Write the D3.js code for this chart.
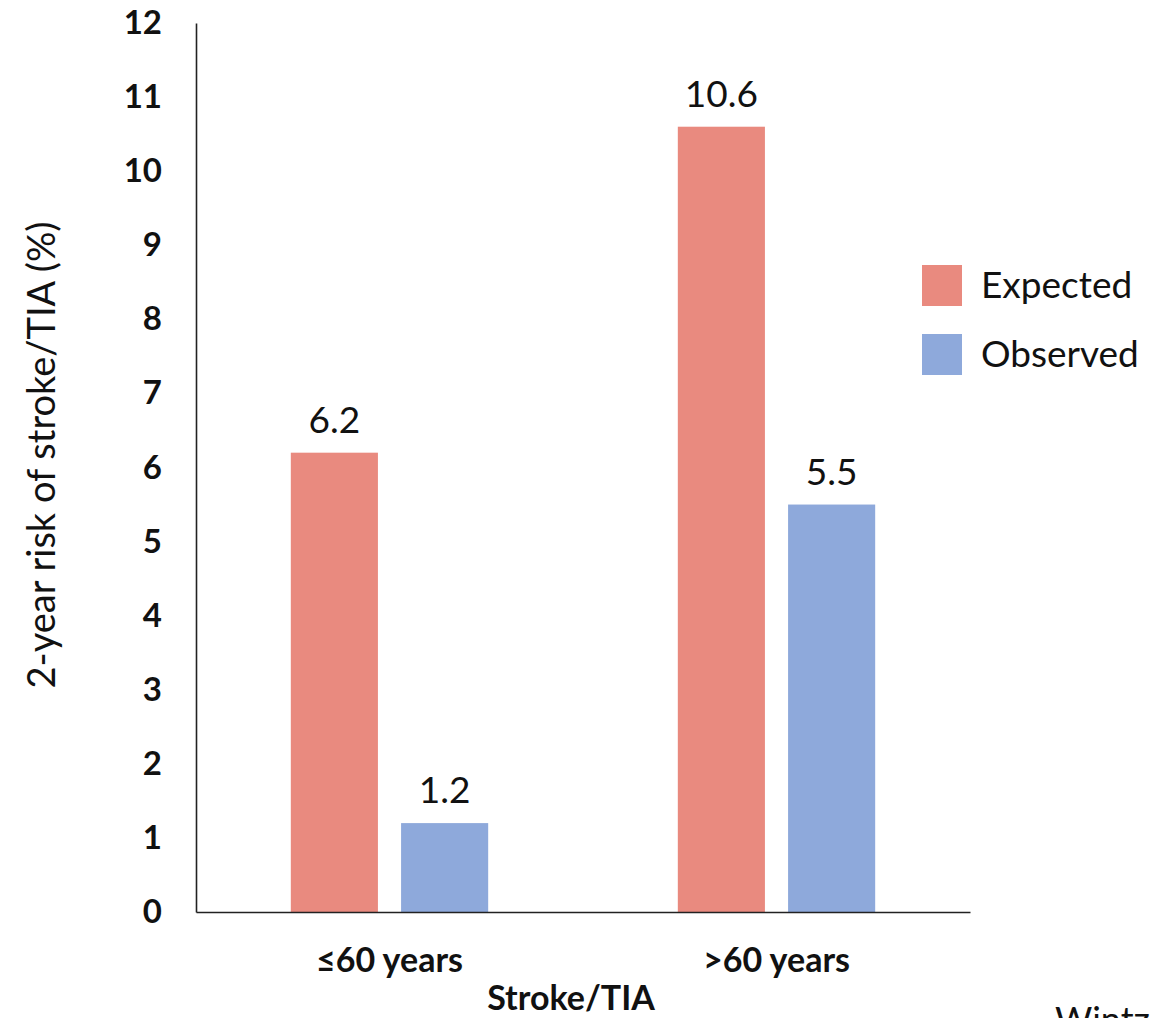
<!DOCTYPE html>
<html>
<head>
<meta charset="utf-8">
<script src="https://cdn.jsdelivr.net/npm/d3@7"></script>
<style>
  html, body { margin: 0; padding: 0; background: #fff; overflow: hidden; }
  svg { display: block; font-family: Lato, "Open Sans", sans-serif; }
</style>
</head>
<body>
<svg id="chart" width="1150" height="1018"></svg>
<script>
// Age groups on the x axis
const categories = ["\u226460 years", ">60 years"];
// Series shown side by side in each group
const seriesNames = ["Expected", "Observed"];
const expectedValues = [6.2, 10.6];
const observedValues = [1.2, 5.5];
const yTicks = [0, 1, 2, 3, 4, 5, 6, 7, 8, 9, 10, 11, 12];
const colors = { Expected: "#E98A7F", Observed: "#8EA9DB" };

const rows = categories.map((c, i) => ({
  category: c,
  Expected: expectedValues[i],
  Observed: observedValues[i]
}));

const svg = d3.select("#chart");
const plot = { left: 196, right: 970, top: 23, bottom: 912 };

const x0 = d3.scaleBand()
  .domain(categories)
  .range([plot.left, plot.right])
  .paddingInner(0.49)
  .paddingOuter(0.245);

const x1 = d3.scaleBand()
  .domain(seriesNames)
  .range([0, x0.bandwidth()])
  .paddingInner(0.21)
  .paddingOuter(0);

const y = d3.scaleLinear().domain([0, 12]).range([plot.bottom, plot.top]);

// Bars
const groups = svg.append("g").selectAll("g")
  .data(rows)
  .join("g")
  .attr("transform", d => `translate(${x0(d.category)},0)`);

groups.selectAll("rect")
  .data(d => seriesNames.map(k => ({ key: k, value: d[k] })))
  .join("rect")
  .attr("x", d => x1(d.key))
  .attr("width", x1.bandwidth())
  .attr("y", d => y(d.value))
  .attr("height", d => y(0) - y(d.value))
  .attr("fill", d => colors[d.key]);

// Value labels above bars
groups.selectAll("text.value")
  .data(d => seriesNames.map(k => ({ key: k, value: d[k] })))
  .join("text")
  .attr("class", "value")
  .attr("x", d => x1(d.key) + x1.bandwidth() / 2)
  .attr("y", d => y(d.value) - 20)
  .attr("text-anchor", "middle")
  .attr("font-size", 37)
  .attr("fill", "#111")
  .text(d => d.value.toFixed(1));

// Y axis: line plus bold tick labels, no tick marks
const yAxis = svg.append("g")
  .attr("transform", `translate(${plot.left},0)`)
  .call(d3.axisLeft(y).tickValues(yTicks).tickSize(0).tickPadding(34).tickFormat(d3.format("d")));
yAxis.select(".domain").attr("stroke", "#222").attr("stroke-width", 1.6);
yAxis.selectAll("text")
  .attr("font-family", "Lato, 'Open Sans', sans-serif")
  .attr("font-size", 33)
  .attr("font-weight", "bold")
  .attr("fill", "#111");

// X axis baseline and category labels
const xAxis = svg.append("g")
  .attr("transform", `translate(0,${plot.bottom})`)
  .call(d3.axisBottom(x0).tickSize(0).tickPadding(36));
xAxis.select(".domain").attr("stroke", "#222").attr("stroke-width", 1.6);
xAxis.selectAll("text")
  .attr("font-family", "Lato, 'Open Sans', sans-serif")
  .attr("font-size", 34)
  .attr("font-weight", "bold")
  .attr("fill", "#111");

// Axis titles
svg.append("text")
  .attr("x", 571)
  .attr("y", 1010)
  .attr("text-anchor", "middle")
  .attr("font-size", 34)
  .attr("font-weight", "bold")
  .attr("fill", "#111")
  .text("Stroke/TIA");

svg.append("text")
  .attr("transform", "translate(55,455) rotate(-90)")
  .attr("text-anchor", "middle")
  .attr("font-size", 38)
  .attr("fill", "#111")
  .text("2-year risk of stroke/TIA (%)");

// Legend
const legend = svg.append("g").attr("transform", "translate(922,265)");
const items = legend.selectAll("g")
  .data(seriesNames)
  .join("g")
  .attr("transform", (d, i) => `translate(0,${i * 69})`);
items.append("rect")
  .attr("width", 40).attr("height", 41)
  .attr("fill", d => colors[d]);
items.append("text")
  .attr("x", 59).attr("y", 33)
  .attr("font-size", 37)
  .attr("fill", "#111")
  .text(d => d);

// Source note, running off the lower-right edge
svg.append("text")
  .attr("x", 1055)
  .attr("y", 1033)
  .attr("font-size", 36)
  .attr("fill", "#111")
  .text("Wintzen");
</script>
</body>
</html>
